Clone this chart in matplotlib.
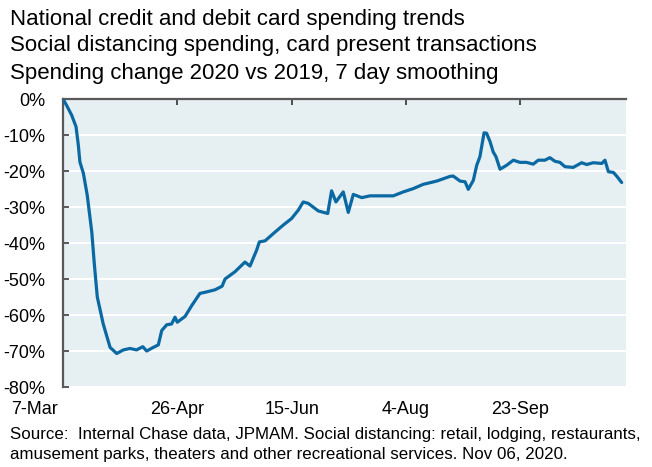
import matplotlib
matplotlib.use("Agg")
import matplotlib.pyplot as plt
import matplotlib.transforms as mtransforms

plt.rcParams['font.family'] = ['Liberation Sans', 'DejaVu Sans']

# days since 7-Mar-2020
days = [0, 1.6, 3.8, 5.7, 6.7, 7.4, 8.9, 10.6, 12.6, 13.7, 15.0, 17.6, 20.6, 23.5,
        26.4, 29.3, 32.2, 34.9, 36.6, 39.5, 41.7, 43.2, 45.4, 47.5, 49.0, 50.0,
        53.4, 56.3, 59.9, 62.1, 66.5, 69.6, 70.9, 75.2, 79.6, 81.8, 84.7, 85.9,
        88.4, 92.7, 96.4, 100.0, 102.9, 105.1, 107.3, 111.7, 115.8, 117.5, 119.4,
        122.6, 124.8, 127.0, 130.7, 134.3, 144.5, 148.9, 153.2, 157.6, 163.5,
        169.3, 170.7, 173.7, 175.9, 177.3, 179.5, 181.0, 182.4, 184.2, 185.3,
        186.8, 188.2, 189.4, 191.2, 194.1, 197.0, 199.9, 202.8, 205.7, 207.9,
        210.8, 213.0, 215.2, 217.4, 219.6, 223.2, 226.9, 229.1, 232.0, 235.7,
        237.1, 238.6, 240.8, 242.2, 244.4]
spending = [0, -1.8, -4.5, -7.7, -12.8, -17.5, -20.6, -26.7, -37, -45.8, -55, -62.5,
            -69, -70.7, -69.7, -69.3, -69.7, -68.8, -70, -69, -68.3, -64.3, -62.7,
            -62.5, -60.6, -62, -60.4, -57.4, -54, -53.7, -53, -52, -50, -48, -45.3,
            -46.4, -42, -39.7, -39.4, -37, -35, -33.2, -30.9, -28.6, -29, -31.1,
            -31.8, -25.5, -28.6, -25.8, -31.5, -26.5, -27.4, -26.9, -26.9, -25.8,
            -24.9, -23.7, -22.8, -21.5, -21.4, -22.8, -23, -25.1, -22.6, -18.4, -16,
            -9.4, -9.5, -11.8, -14.7, -16, -19.5, -18.4, -17, -17.6, -17.6, -18.1,
            -17, -17, -16.3, -17.3, -17.6, -18.8, -19, -17.7, -18.2, -17.7, -17.9,
            -17, -20.2, -20.4, -21.4, -23.2]

tick_days = [0, 50, 100, 150, 200]
tick_labels = ['7-Mar', '26-Apr', '15-Jun', '4-Aug', '23-Sep']
y_ticks = [0, -10, -20, -30, -40, -50, -60, -70, -80]

fig = plt.figure(figsize=(6.52, 4.67), dpi=100)
ax = fig.add_axes([63/652, 1-387/467, (626-63)/652, (387-99)/467])
ax.set_facecolor('#E6EFF2')

ax.plot(days, spending, color='#0A69A3', lw=2.3, solid_joinstyle='round',
        solid_capstyle='round', zorder=3)

ax.set_xlim(0, 246.3)
ax.set_ylim(-80, 0)
ax.set_yticks(y_ticks)
ax.set_yticklabels([f'{v}%' for v in y_ticks])
ax.yaxis.grid(True, color='white', lw=1.5)
ax.set_axisbelow(True)

ax.set_xticks(tick_days)
ax.set_xticklabels(tick_labels)
for s in ['right', 'bottom']:
    ax.spines[s].set_visible(False)
for s in ['left', 'top']:
    ax.spines[s].set_color('#595959')
    ax.spines[s].set_linewidth(1.6)

ax.tick_params(axis='y', direction='in', length=4, width=1.4, color='#595959',
               labelsize=13, pad=13, labelcolor='black')
ax.tick_params(axis='x', direction='in', length=4, width=1.2, color='#333333',
               top=True, bottom=False, labeltop=False, labelbottom=True,
               labelsize=13, pad=10, labelcolor='black')
first = ax.get_xticklabels()[0]
first.set_transform(first.get_transform() +
                    mtransforms.ScaledTranslation(-28/100, 0, fig.dpi_scale_trans))

title_lines = ['National credit and debit card spending trends',
               'Social distancing spending, card present transactions',
               'Spending change 2020 vs 2019, 7 day smoothing']
for i, t in enumerate(title_lines):
    fig.text(10/652, 1-(19+27*i)/467, t, fontsize=16, va='center', ha='left')

foot = ['Source:  Internal Chase data, JPMAM. Social distancing: retail, lodging, restaurants,',
        'amusement parks, theaters and other recreational services. Nov 06, 2020.']
for i, t in enumerate(foot):
    fig.text(10/652, 1-(434+20*i)/467, t, fontsize=12.2, va='center', ha='left')

fig.savefig('out.png', dpi=100)
